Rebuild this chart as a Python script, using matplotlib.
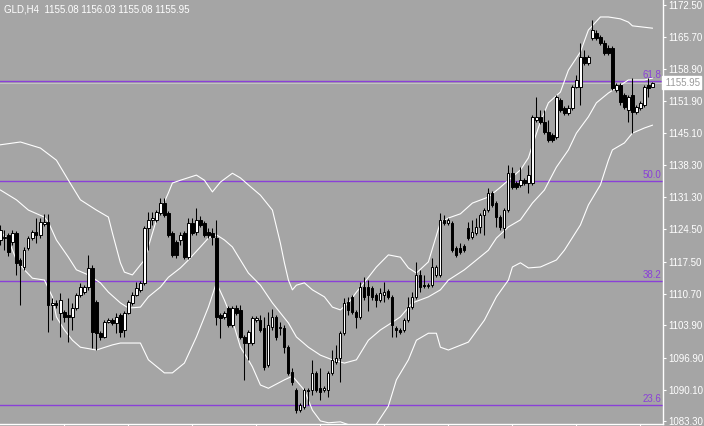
import numpy as np
import matplotlib
matplotlib.use('Agg')
import matplotlib.pyplot as plt

plt.rcParams['font.family'] = ['Liberation Sans', 'DejaVu Sans']

# GLD, H4 candles (oldest first)
opens = [
    1122.2, 1122.6, 1123.3, 1121.8, 1123.7, 1117.9, 1116.4, 1120.5, 1122.6, 1123.9,
    1123.3, 1125.6, 1126.0, 1108.3, 1108.7, 1106.5, 1106.7, 1106.1, 1105.7, 1107.6,
    1110.4, 1111.0, 1112.1, 1116.2, 1108.9, 1102.2, 1101.4, 1104.6, 1105.0, 1104.4,
    1106.1, 1102.9, 1106.5, 1108.7, 1110.4, 1111.5, 1113.0, 1124.8, 1126.5, 1126.5,
    1128.0, 1130.1, 1128.0, 1123.7, 1121.8, 1122.2, 1123.7, 1118.5, 1125.8, 1123.9,
    1126.5, 1125.8, 1123.9, 1123.7, 1122.6, 1106.1, 1105.7, 1107.6, 1104.0, 1107.6,
    1107.2, 1101.4, 1100.1, 1100.1, 1105.0, 1105.0, 1103.3, 1095.4, 1103.5, 1105.7,
    1103.5, 1103.3, 1099.2, 1093.9, 1090.0, 1085.7, 1086.4, 1090.0, 1090.0, 1093.7,
    1090.4, 1090.0, 1090.0, 1093.7, 1096.0, 1096.9, 1102.2, 1108.9, 1110.0, 1106.7,
    1105.7, 1112.1, 1112.1, 1111.9, 1110.4, 1109.3, 1110.4, 1111.2, 1110.0, 1103.3,
    1102.9, 1102.9, 1105.0, 1107.8, 1110.0, 1114.7, 1112.5, 1112.3, 1112.5, 1114.7,
    1114.7, 1126.5, 1125.8, 1125.8, 1120.5, 1120.5, 1120.9, 1124.8, 1122.8, 1123.7,
    1125.0, 1127.6, 1128.6, 1132.3, 1130.1, 1127.1, 1124.8, 1128.6, 1136.5, 1134.4,
    1134.0, 1135.1, 1134.4, 1134.4, 1147.9, 1148.6, 1147.5, 1145.3, 1144.7, 1144.3,
    1152.2, 1150.5, 1149.4, 1150.5, 1155.0, 1155.0, 1161.4, 1160.1, 1165.5, 1166.6,
    1165.7, 1164.4, 1163.3, 1163.3, 1154.3, 1155.4, 1153.3, 1150.1, 1153.3, 1149.6,
    1150.5, 1151.1, 1155.4, 1155.08]
closes = [
    1124.3, 1122.8, 1119.6, 1123.7, 1117.3, 1116.8, 1120.0, 1122.6, 1123.9, 1123.3,
    1126.0, 1126.0, 1108.3, 1108.7, 1108.3, 1109.3, 1105.7, 1105.7, 1107.6, 1110.4,
    1112.1, 1112.1, 1116.2, 1102.5, 1102.2, 1101.4, 1104.6, 1105.0, 1104.4, 1105.7,
    1102.5, 1106.5, 1108.9, 1110.4, 1111.9, 1113.0, 1124.8, 1126.5, 1126.9, 1128.2,
    1130.1, 1127.6, 1123.3, 1119.0, 1119.0, 1123.3, 1118.5, 1125.8, 1123.7, 1126.5,
    1125.4, 1123.3, 1123.3, 1122.8, 1105.7, 1105.5, 1106.5, 1104.0, 1107.6, 1106.5,
    1101.4, 1100.1, 1102.5, 1105.5, 1105.5, 1102.9, 1095.0, 1104.0, 1105.7, 1101.4,
    1103.3, 1099.2, 1093.7, 1091.7, 1085.7, 1086.8, 1090.0, 1089.8, 1093.7, 1090.0,
    1089.6, 1090.4, 1093.7, 1096.5, 1096.9, 1102.2, 1108.7, 1107.2, 1106.7, 1105.7,
    1112.1, 1110.0, 1110.4, 1110.0, 1109.3, 1110.8, 1111.0, 1110.0, 1104.0, 1102.9,
    1102.5, 1105.0, 1107.8, 1110.0, 1114.7, 1112.1, 1112.3, 1112.5, 1116.4, 1116.4,
    1126.5, 1125.8, 1126.5, 1120.0, 1119.0, 1119.6, 1120.0, 1122.6, 1123.9, 1125.0,
    1127.6, 1128.6, 1132.3, 1129.7, 1127.1, 1125.0, 1128.6, 1136.5, 1133.5, 1133.5,
    1135.1, 1134.4, 1136.1, 1148.6, 1148.6, 1147.5, 1145.3, 1143.6, 1143.6, 1152.8,
    1150.1, 1149.4, 1150.5, 1155.0, 1156.5, 1161.4, 1160.1, 1161.4, 1167.2, 1165.5,
    1164.4, 1162.3, 1162.3, 1154.8, 1155.4, 1151.8, 1150.7, 1152.8, 1149.6, 1150.7,
    1151.6, 1155.0, 1154.8, 1155.95]
highs = [
    1125.4, 1124.3, 1123.7, 1124.3, 1124.1, 1118.3, 1120.7, 1123.0, 1124.3, 1126.9,
    1126.9, 1127.8, 1127.8, 1109.7, 1109.3, 1110.8, 1107.2, 1109.7, 1108.7, 1110.8,
    1113.0, 1112.5, 1119.0, 1116.8, 1109.3, 1102.7, 1105.0, 1105.5, 1105.5, 1106.5,
    1106.5, 1107.0, 1109.3, 1111.0, 1113.2, 1113.4, 1125.2, 1128.2, 1128.2, 1128.6,
    1131.2, 1131.2, 1128.4, 1124.1, 1122.2, 1123.9, 1124.1, 1126.9, 1126.9, 1129.0,
    1127.3, 1126.3, 1124.8, 1124.8, 1126.5, 1106.5, 1107.0, 1108.0, 1108.0, 1108.3,
    1108.3, 1101.8, 1102.9, 1105.9, 1105.9, 1106.1, 1105.7, 1106.7, 1107.4, 1106.1,
    1104.6, 1104.0, 1099.7, 1094.7, 1090.4, 1087.2, 1090.4, 1090.4, 1096.5, 1094.1,
    1094.7, 1090.9, 1094.1, 1098.6, 1099.7, 1102.7, 1109.7, 1110.0, 1110.4, 1107.2,
    1113.2, 1114.2, 1113.6, 1112.3, 1110.8, 1111.9, 1113.2, 1111.7, 1110.4, 1103.7,
    1103.3, 1105.5, 1110.0, 1111.0, 1117.5, 1115.8, 1114.7, 1113.0, 1118.3, 1116.8,
    1128.0, 1127.6, 1126.9, 1126.3, 1120.9, 1121.5, 1121.3, 1126.0, 1126.5, 1126.9,
    1128.0, 1129.0, 1133.3, 1132.7, 1130.5, 1127.6, 1129.0, 1138.3, 1137.8, 1134.8,
    1137.8, 1135.5, 1138.3, 1149.0, 1152.8, 1150.1, 1150.1, 1147.9, 1145.1, 1153.3,
    1152.6, 1150.9, 1151.1, 1155.4, 1157.6, 1164.4, 1162.9, 1161.8, 1169.4, 1167.2,
    1166.1, 1165.1, 1164.0, 1163.8, 1155.8, 1155.8, 1153.7, 1153.3, 1156.9, 1151.1,
    1152.0, 1155.4, 1156.9, 1156.03]
lows = [
    1121.1, 1120.0, 1118.8, 1121.1, 1114.7, 1108.3, 1115.8, 1120.0, 1122.2, 1121.5,
    1122.6, 1125.2, 1102.5, 1105.0, 1107.6, 1101.4, 1104.6, 1100.3, 1102.9, 1107.2,
    1110.0, 1110.6, 1111.5, 1099.0, 1098.6, 1100.7, 1101.2, 1104.4, 1104.0, 1102.2,
    1101.4, 1101.4, 1106.3, 1108.3, 1110.2, 1111.0, 1112.5, 1120.0, 1125.4, 1126.0,
    1127.6, 1127.1, 1122.8, 1118.5, 1118.3, 1121.1, 1118.1, 1118.1, 1123.3, 1123.3,
    1125.0, 1122.8, 1122.6, 1121.1, 1104.0, 1101.2, 1105.3, 1103.5, 1103.5, 1106.1,
    1100.9, 1092.2, 1096.5, 1099.7, 1104.6, 1102.5, 1094.3, 1095.0, 1102.9, 1100.7,
    1101.8, 1098.0, 1093.2, 1091.1, 1085.1, 1085.3, 1086.0, 1086.8, 1089.0, 1089.6,
    1087.9, 1089.6, 1088.5, 1093.2, 1095.6, 1091.7, 1101.8, 1106.1, 1106.3, 1103.3,
    1105.3, 1109.3, 1107.0, 1109.3, 1107.8, 1108.9, 1108.9, 1109.5, 1101.4, 1101.4,
    1102.0, 1102.5, 1104.6, 1107.4, 1109.5, 1111.0, 1111.9, 1111.9, 1112.1, 1114.3,
    1114.3, 1125.4, 1125.4, 1119.6, 1118.5, 1119.2, 1119.6, 1122.2, 1122.4, 1123.3,
    1123.7, 1123.3, 1128.2, 1129.3, 1125.0, 1124.3, 1122.6, 1128.2, 1133.1, 1133.1,
    1133.5, 1134.0, 1132.3, 1134.0, 1147.5, 1147.1, 1144.9, 1143.2, 1143.2, 1143.8,
    1149.6, 1149.0, 1149.0, 1150.1, 1154.8, 1151.1, 1159.7, 1159.7, 1165.1, 1165.1,
    1164.0, 1161.8, 1161.8, 1154.3, 1153.9, 1151.1, 1150.3, 1147.5, 1145.1, 1149.2,
    1150.1, 1150.7, 1152.8, 1155.08]

# Bollinger bands, read at selected bars
upper_idx = [0, 5, 10, 14, 17, 20, 24, 27, 28, 30, 31, 33, 36, 39, 42, 43, 45, 49, 51, 53,
             55, 58, 60, 62, 65, 68, 70, 71, 72, 73, 74, 76, 78, 81, 83, 85, 87, 89, 92, 94,
             97, 100, 102, 104, 107, 110, 112, 115, 118, 122, 125, 127, 130, 132, 133, 135,
             137, 140, 142, 145, 147, 150, 152, 155, 157, 158, 163]
upper_band = [1142.6, 1143.2, 1141.9, 1139.3, 1135.0, 1130.8, 1128.6, 1127.1, 1123.7, 1117.3,
              1115.3, 1114.7, 1117.9, 1126.5, 1132.3, 1134.4, 1135.0, 1136.1, 1135.0, 1132.5,
              1134.6, 1136.5, 1135.5, 1134.0, 1131.8, 1128.6, 1121.5, 1117.3, 1113.6, 1111.5,
              1112.5, 1113.0, 1111.5, 1110.0, 1107.8, 1107.2, 1108.7, 1111.0, 1114.2, 1116.4,
              1119.0, 1118.5, 1116.2, 1115.1, 1117.5, 1126.0, 1126.9, 1127.8, 1130.1, 1131.4,
              1133.5, 1135.0, 1137.2, 1139.8, 1142.5, 1147.5, 1151.6, 1153.9, 1158.6, 1162.5,
              1167.2, 1170.0, 1170.0, 1169.6, 1168.9, 1168.1, 1167.6]
mid_idx = [0, 4, 7, 11, 12, 14, 17, 19, 22, 25, 27, 30, 32, 35, 37, 40, 42, 45, 47, 50,
           52, 54, 56, 58, 60, 62, 65, 68, 72, 74, 77, 80, 83, 86, 89, 92, 95, 97, 100, 103,
           107, 110, 112, 116, 119, 122, 124, 127, 130, 133, 136, 139, 142, 144, 147, 149,
           152, 154, 157, 161, 163]
mid_band = [1132.9, 1130.8, 1128.6, 1127.1, 1126.0, 1122.2, 1118.5, 1115.8, 1114.7, 1113.0,
            1111.0, 1108.7, 1107.6, 1107.8, 1110.0, 1112.1, 1114.2, 1116.2, 1117.9, 1120.7,
            1122.6, 1123.3, 1122.2, 1120.7, 1117.9, 1115.1, 1112.5, 1108.7, 1104.4, 1101.4,
            1099.2, 1097.5, 1096.5, 1095.8, 1096.5, 1100.7, 1102.9, 1104.0, 1105.7, 1108.7,
            1110.0, 1111.5, 1113.6, 1115.8, 1117.9, 1120.0, 1122.6, 1125.0, 1126.5, 1130.1,
            1132.9, 1137.8, 1141.5, 1145.1, 1148.6, 1151.6, 1153.7, 1154.8, 1156.5, 1156.5,
            1156.9]
lower_idx = [0, 2, 4, 6, 8, 11, 13, 14, 16, 18, 20, 24, 28, 30, 35, 37, 41, 43, 46, 49,
             52, 54, 56, 58, 60, 62, 63, 65, 67, 71, 73, 76, 78, 80, 82, 85, 88, 91, 94, 97,
             99, 102, 104, 107, 109, 110, 112, 117, 121, 124, 127, 128, 130, 132, 135, 139,
             141, 145, 147, 150, 152, 153, 156, 158, 161, 163]
lower_band = [1124.0, 1122.2, 1117.9, 1115.8, 1114.0, 1113.6, 1110.0, 1105.7, 1102.9, 1100.7,
              1099.2, 1098.6, 1099.7, 1100.1, 1100.1, 1096.5, 1093.7, 1093.7, 1095.8, 1101.4,
              1107.8, 1113.0, 1109.3, 1105.0, 1099.2, 1096.5, 1095.0, 1091.1, 1090.4, 1092.2,
              1093.0, 1090.0, 1085.7, 1083.4, 1083.0, 1083.2, 1082.3, 1081.4, 1082.7, 1086.6,
              1092.2, 1096.5, 1100.7, 1102.2, 1102.2, 1099.2, 1098.6, 1100.3, 1105.0, 1110.0,
              1113.6, 1116.4, 1117.3, 1116.2, 1116.4, 1117.9, 1120.0, 1125.4, 1129.7, 1134.0,
              1139.3, 1141.5, 1143.0, 1145.1, 1146.2, 1146.8]

fib_labels = ['61.8', '50.0', '38.2', '23.6']
fib_levels = [1156.34, 1134.83, 1113.46, 1086.81]

price_ticks = [1083.30, 1090.10, 1096.90, 1103.90, 1110.70, 1117.50, 1124.50,
               1131.30, 1138.30, 1145.10, 1151.90, 1158.90, 1165.70, 1172.50]
last_price = 1155.95
title = 'GLD,H4  1155.08 1156.03 1155.08 1155.95'

bg = '#A5A5A5'
fib_color = '#8A40D8'

fig = plt.figure(figsize=(7.04, 4.26), dpi=100, facecolor=bg)
ax = fig.add_axes([0, 2 / 426, 663 / 704, 424 / 426])
ax.set_facecolor(bg)

o = np.array(opens)
c = np.array(closes)
h = np.array(highs)
l = np.array(lows)
x = np.arange(len(o))

# fib levels and current price line
for lev, lab in zip(fib_levels, fib_labels):
    ax.axhline(lev, color=fib_color, linewidth=1.0, zorder=1)
    ax.text(0.997, lev + 0.25, lab, transform=ax.get_yaxis_transform(),
            ha='right', va='bottom', fontsize=7, color=fib_color)
ax.axhline(last_price, color='#C4C4C4', linewidth=0.7, zorder=1)

# bands
ax.plot(upper_idx, upper_band, color='white', linewidth=0.8, zorder=2)
ax.plot(mid_idx, mid_band, color='white', linewidth=0.8, zorder=2)
ax.plot(lower_idx, lower_band, color='white', linewidth=0.8, zorder=2)

# candles
ax.vlines(x, l, h, color='black', linewidth=0.75, zorder=3)
up = c >= o
bottom = np.minimum(o, c)
height = np.abs(c - o)
ax.bar(x[up], height[up], bottom=bottom[up], width=0.55, color='white',
       edgecolor='black', linewidth=0.7, zorder=4)
ax.bar(x[~up], height[~up], bottom=bottom[~up], width=0.55, color='black',
       edgecolor='black', linewidth=0.7, zorder=4)

ax.set_xlim(-0.1, 165.65)
ax.set_ylim(1082.74, 1173.64)

for s in ['top', 'left']:
    ax.spines[s].set_visible(False)
for s in ['right', 'bottom']:
    ax.spines[s].set_color('white')
    ax.spines[s].set_linewidth(1.0)

ax.yaxis.tick_right()
ax.set_yticks(price_ticks)
ax.set_yticklabels(['%.2f' % t for t in price_ticks])
ax.tick_params(axis='y', colors='white', labelsize=7, length=2.5, width=0.8, pad=1.5)
ax.set_xticks(np.arange(16, 164, 16))
ax.set_xticklabels([])
ax.tick_params(axis='x', colors='white', length=2, width=0.8)

ax.text(1.0, last_price, ' ' + '%.2f' % last_price, transform=ax.get_yaxis_transform(),
        ha='left', va='center', fontsize=7, color='#9A9A9A', clip_on=False,
        bbox=dict(boxstyle='square,pad=0.15', facecolor='white', edgecolor='white'))

fig.text(4 / 704, 1 - 9 / 426, title, color='white', fontsize=7, va='center', ha='left')

fig.savefig('out.png', dpi=100, facecolor=bg)
